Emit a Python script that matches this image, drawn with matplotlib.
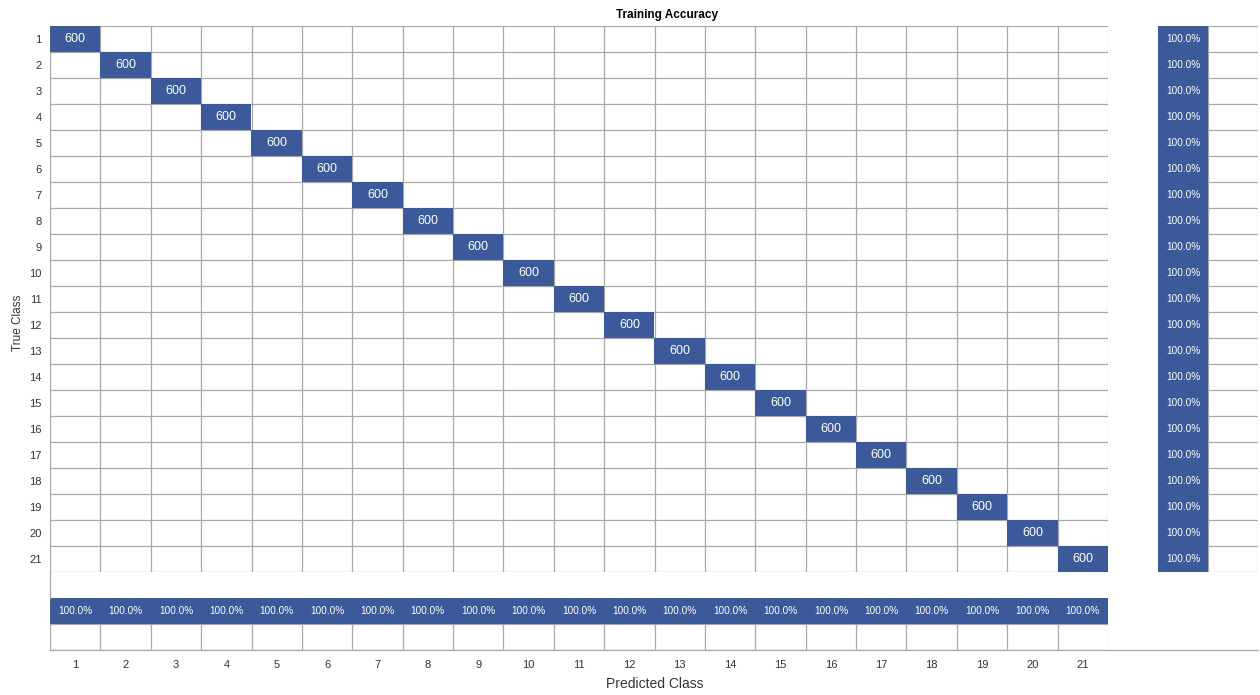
import numpy as np
import matplotlib
matplotlib.use("Agg")
import matplotlib.pyplot as plt
from matplotlib.colors import ListedColormap
from matplotlib.lines import Line2D

plt.rcParams['font.family'] = ['Liberation Sans', 'DejaVu Sans']

classes = [str(i) for i in range(1, 22)]
diag_counts = [600] * 21
row_recall = [100.0] * 21      # right summary column
col_precision = [100.0] * 21   # bottom summary row
title = "Training Accuracy"
xlabel = "Predicted Class"
ylabel = "True Class"

BLUE = '#3C5A9A'
GRID = '#a8a8a8'
W, H = 1260, 695

n = len(classes)
cm = np.zeros((n, n))
for i, v in enumerate(diag_counts):
    cm[i, i] = v

fig = plt.figure(figsize=(W / 100, H / 100), dpi=100)

def px_axes(x0, y0, x1, y1):
    return fig.add_axes([x0 / W, 1 - y1 / H, (x1 - x0) / W, (y1 - y0) / H])

cmap = ListedColormap([BLUE])

def draw_cells(ax, mask):
    m = np.ma.masked_where(~mask, np.ones(mask.shape))
    ax.imshow(m, cmap=cmap, vmin=0, vmax=1, aspect='auto', interpolation='nearest', zorder=4)
    ny, nx = mask.shape
    ax.set_xlim(-0.5, nx - 0.5)
    ax.set_ylim(ny - 0.5, -0.5)

def draw_grid(ax, nx, ny):
    for k in range(nx + 1):
        ax.axvline(k - 0.5, color=GRID, lw=0.9, zorder=3)
    for k in range(ny + 1):
        ax.axhline(k - 0.5, color=GRID, lw=0.9, zorder=3)
    for s in ax.spines.values():
        s.set_visible(False)

# main matrix
ax = px_axes(50, 26, 1108, 572)
draw_cells(ax, cm > 0)
draw_grid(ax, n, n)
for i in range(n):
    for j in range(n):
        if cm[i, j] > 0:
            ax.text(j, i, f"{int(cm[i, j])}", ha='center', va='center', color='white', fontsize=9, zorder=5)
ax.set_xticks([])
ax.set_yticks(range(n))
ax.set_yticklabels(classes, fontsize=8, color='#333333')
ax.tick_params(axis='y', length=0, pad=6)
ax.set_ylabel(ylabel, fontsize=8.5, color='#333333')
ax.yaxis.set_label_coords((24 - 50) / 1058, (572 - 323) / 546)

fig.text(667 / W, 1 - 15 / H, title, ha='center', va='center', fontsize=8.5, fontweight='bold')

# bottom summary
axb = px_axes(50, 598, 1108, 650)
bmask = np.vstack([np.ones(n, bool), np.zeros(n, bool)])
draw_cells(axb, bmask)
draw_grid(axb, n, 2)
for j, v in enumerate(col_precision):
    axb.text(j, 0, f"{v:.1f}%", ha='center', va='center', color='white', fontsize=7.2, zorder=5)
axb.set_yticks([])
axb.set_xticks(range(n))
axb.set_xticklabels(classes, fontsize=8, color='#333333')
axb.tick_params(axis='x', length=0, pad=7)
axb.set_xlabel(xlabel, fontsize=10, color='#333333')
axb.xaxis.set_label_coords((655 - 50) / 1058, -(677 - 650) / 52)

# right summary
axr = px_axes(1158, 26, 1258, 572)
rmask = np.zeros((n, 2), bool)
rmask[:, 0] = True
draw_cells(axr, rmask)
draw_grid(axr, 2, n)
for i, v in enumerate(row_recall):
    axr.text(0, i, f"{v:.1f}%", ha='center', va='center', color='white', fontsize=7.2, zorder=5)
axr.set_xticks([])
axr.set_yticks([])

# frame lines
fig.add_artist(Line2D([50 / W, 1258 / W], [1 - 650 / H, 1 - 650 / H], color=GRID, lw=0.9))
fig.add_artist(Line2D([50 / W, 50 / W], [1 - 572 / H, 1 - 598 / H], color=GRID, lw=0.9))

fig.savefig('out.png', dpi=100)
